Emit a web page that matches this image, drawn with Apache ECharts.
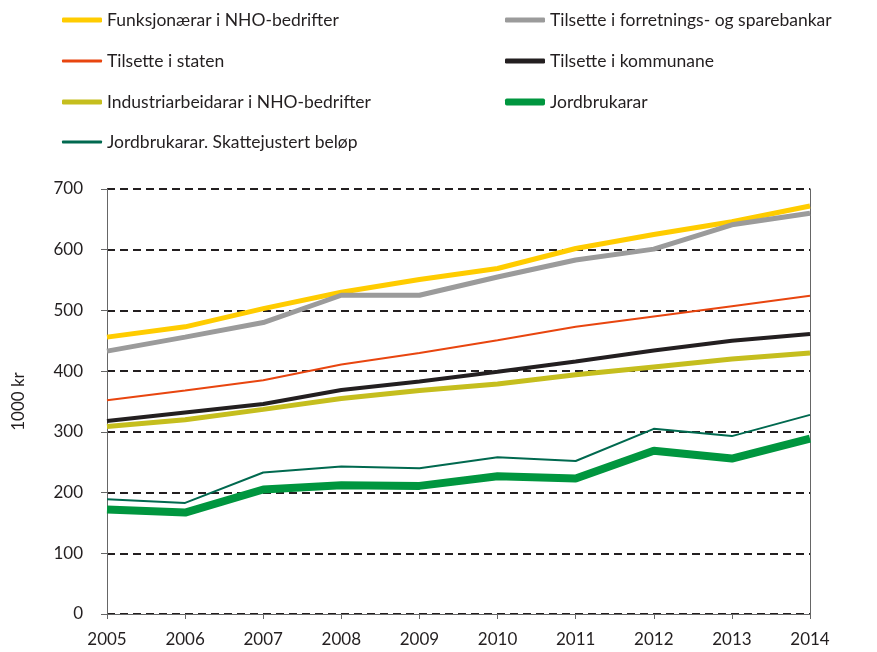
<!DOCTYPE html>
<html>
<head>
<meta charset="utf-8">
<script src="https://cdn.jsdelivr.net/npm/echarts@6/dist/echarts.min.js"></script>
<style>
  html, body { margin: 0; padding: 0; background: #fff; }
  #main { width: 877px; height: 652px; }
</style>
</head>
<body>
<div id="main"></div>
<script>
const years = ['2005','2006','2007','2008','2009','2010','2011','2012','2013','2014'];
const funksjonaerar = [456, 473, 503, 530, 551, 569, 602, 625, 646, 672];
const bankar = [433, 456, 480, 525, 525, 555, 583, 601, 641, 660];
const staten = [352, 368, 385, 411, 430, 451, 473, 490, 507, 524];
const kommunane = [318, 332, 346, 369, 383, 399, 416, 434, 450, 461];
const industri = [309, 320, 337, 355, 368, 379, 394, 407, 420, 430];
const jordbruk = [172, 167, 205, 212, 211, 227, 223, 269, 256, 289];
const jordbrukSkatt = [189, 183, 233, 243, 240, 258, 252, 305, 293, 328];

const FONT = 'Lato';
const chart = echarts.init(document.getElementById('main'));

// name, data, colour, line width, legend left, legend top, legend icon height
const defs = [
  ['Funksjonærar i NHO-bedrifter', funksjonaerar, '#FFCC00', 5, 57, 6, 5],
  ['Tilsette i forretnings- og sparebankar', bankar, '#9B9B9B', 5, 500, 6, 5],
  ['Tilsette i staten', staten, '#E8450F', 2, 57, 47, 3],
  ['Tilsette i kommunane', kommunane, '#231F20', 4, 500, 47, 5],
  ['Industriarbeidarar i NHO-bedrifter', industri, '#C5BE1E', 5, 57, 88, 5],
  ['Jordbrukarar', jordbruk, '#00963F', 8, 500, 88, 7],
  ['Jordbrukarar. Skattejustert beløp', jordbrukSkatt, '#00694F', 2, 57, 128, 3]
];

const series = defs.map(d => ({
  name: d[0],
  type: 'line',
  data: d[1],
  symbol: 'none',
  color: d[2],
  lineStyle: { color: d[2], width: d[3] }
}));

const legends = defs.map(d => ({
  data: [{ name: d[0], icon: 'roundRect' }],
  left: d[4],
  top: d[5],
  itemWidth: 40,
  itemHeight: d[6],
  selectedMode: false,
  textStyle: { fontFamily: FONT, fontSize: 17.5, color: '#231F20' }
}));

chart.setOption({
  animation: false,
  legend: legends,
  grid: { left: 107, right: 67, top: 189, bottom: 38 },
  xAxis: {
    type: 'category',
    data: years,
    boundaryGap: false,
    axisLine: { lineStyle: { color: '#666', width: 1 } },
    axisTick: { show: true, length: 5, lineStyle: { color: '#666' } },
    axisLabel: { fontFamily: FONT, fontSize: 17, color: '#231F20', margin: 17 }
  },
  yAxis: [{
    type: 'value',
    min: 0,
    max: 700,
    interval: 100,
    name: '1000 kr',
    nameLocation: 'middle',
    nameRotate: 90,
    nameGap: 80,
    nameTextStyle: { fontFamily: FONT, fontSize: 17, color: '#231F20' },
    axisLine: { show: true, lineStyle: { color: '#666', width: 1 } },
    axisTick: { show: true, length: 6, lineStyle: { color: '#666' } },
    axisLabel: { fontFamily: FONT, fontSize: 17, color: '#231F20', margin: 24 },
    splitLine: { show: true, lineStyle: { color: '#231F20', width: 2, type: [8, 5] } }
  }, {
    type: 'value',
    position: 'right',
    min: 0,
    max: 700,
    interval: 100,
    axisLine: { show: true, lineStyle: { color: '#666', width: 1 } },
    axisTick: { show: false },
    axisLabel: { show: false },
    splitLine: { show: false }
  }],
  series: series
});
</script>
</body>
</html>
